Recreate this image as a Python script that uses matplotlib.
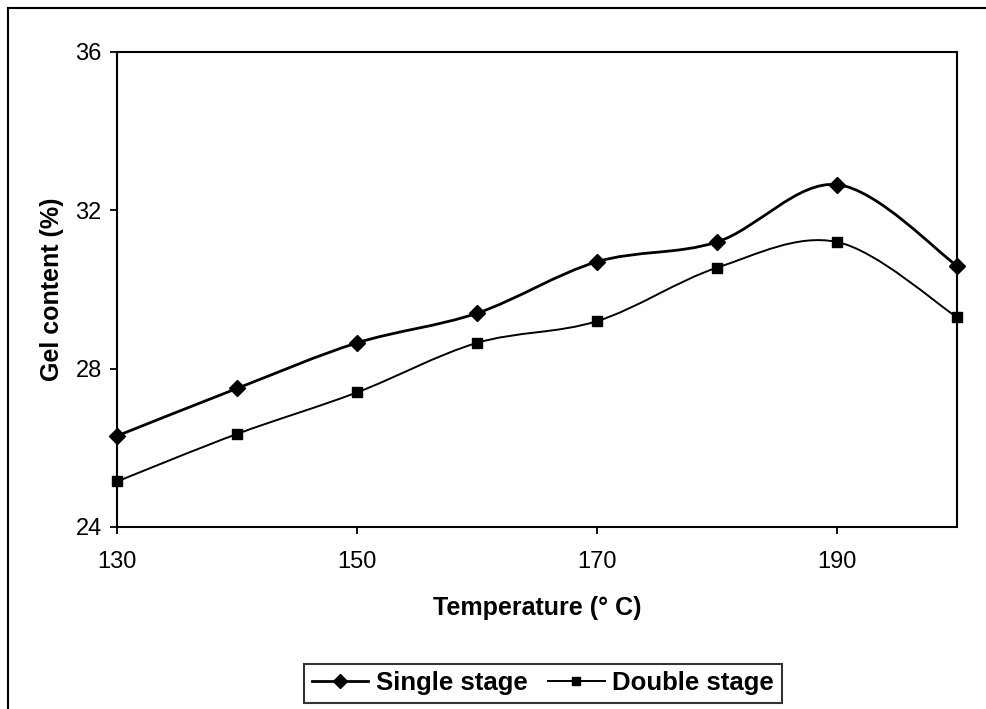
import matplotlib
matplotlib.use("Agg")
import matplotlib.pyplot as plt
from matplotlib.path import Path
from matplotlib.patches import PathPatch
from matplotlib.lines import Line2D
import numpy as np

plt.rcParams['font.family'] = ['Liberation Sans', 'DejaVu Sans']

temperature = [130, 140, 150, 160, 170, 180, 190, 200]
single_stage = [26.3, 27.5, 28.65, 29.4, 30.7, 31.2, 32.65, 30.6]
double_stage = [25.15, 26.35, 27.4, 28.65, 29.2, 30.55, 31.2, 29.3]
x_ticks = [130, 150, 170, 190]
y_ticks = [24, 28, 32, 36]
series_names = ["Single stage", "Double stage"]


def smooth_path(xs, ys, t=1/6):
    pts = np.column_stack([xs, ys]).astype(float)
    n = len(pts)
    verts = [pts[0]]
    codes = [Path.MOVETO]
    for i in range(n - 1):
        p0 = pts[i - 1] if i > 0 else pts[i]
        p1 = pts[i]
        p2 = pts[i + 1]
        p3 = pts[i + 2] if i + 2 < n else pts[i + 1]
        c1 = p1 + (p2 - p0) * t
        c2 = p2 - (p3 - p1) * t
        verts += [c1, c2, p2]
        codes += [Path.CURVE4] * 3
    return Path(verts, codes)


fig = plt.figure(figsize=(9.87, 7.09), dpi=100)
ax = fig.add_axes([0.1185, 0.2567, 0.8511, 0.67])

styles = [
    dict(marker='D', ms=8, lw=2.0),
    dict(marker='s', ms=7, lw=1.4),
]
handles = []
for ys, name, st in zip([single_stage, double_stage], series_names, styles):
    ax.add_patch(PathPatch(smooth_path(temperature, ys), fill=False,
                           edgecolor='black', lw=st['lw'], zorder=3))
    ax.plot(temperature, ys, linestyle='none', marker=st['marker'],
            ms=st['ms'], color='black', zorder=4, clip_on=False)
    handles.append(Line2D([], [], color='black', lw=st['lw'],
                          marker=st['marker'], ms=st['ms'] - 1))

ax.set_xlim(130, 200)
ax.set_ylim(24, 36)
ax.set_xticks(x_ticks)
ax.set_yticks(y_ticks)
ax.tick_params(axis='both', direction='out', length=5, width=1.3,
               labelsize=17, color='black')
ax.tick_params(axis='y', pad=6)
ax.tick_params(axis='x', pad=12)
for sp in ax.spines.values():
    sp.set_linewidth(1.5)

ax.set_xlabel("Temperature (° C)", fontsize=18, fontweight='bold', labelpad=17)
ax.set_ylabel("Gel content (%)", fontsize=18, fontweight='bold', labelpad=8)

leg = fig.legend(handles, series_names, loc='center',
                 bbox_to_anchor=(0.550, 0.036), ncol=2, frameon=True,
                 fancybox=False, edgecolor='black', handlelength=2.2,
                 handletextpad=0.3, columnspacing=0.8, borderpad=0.3,
                 prop=dict(size=18.5, weight='bold'))
leg.get_frame().set_linewidth(1.5)

# outer chart frame (left and top edges visible)
fig.add_artist(Line2D([8 / 987, 8 / 987], [0, 1 - 8 / 709], color='black',
                      lw=1.5, transform=fig.transFigure))
fig.add_artist(Line2D([8 / 987, 1], [1 - 8 / 709, 1 - 8 / 709], color='black',
                      lw=1.5, transform=fig.transFigure))

fig.savefig("out.png", dpi=100, facecolor='white')
